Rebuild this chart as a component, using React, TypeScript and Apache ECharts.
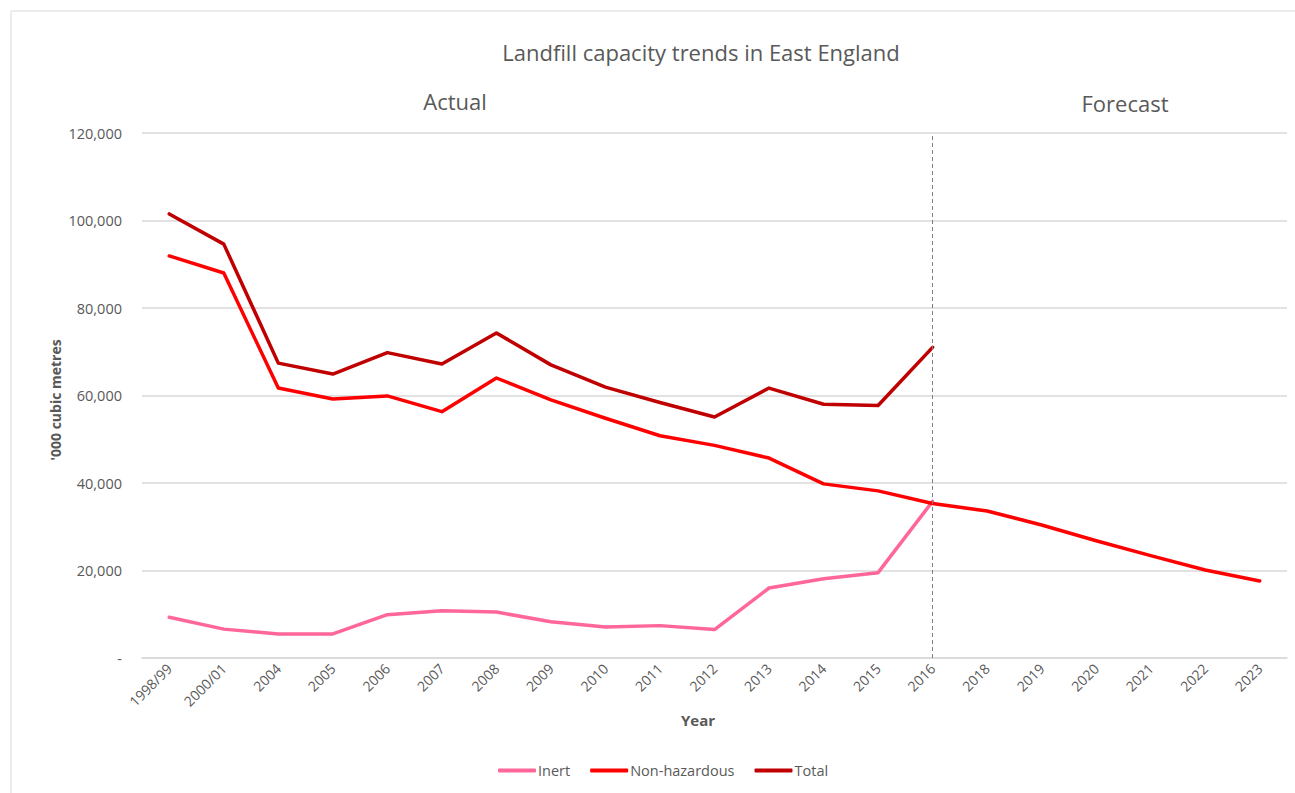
import React, { useEffect, useRef } from "react";
import * as echarts from "echarts";

const years = ["1998/99","2000/01","2004","2005","2006","2007","2008","2009","2010","2011","2012","2013","2014","2015","2016","2018","2019","2020","2021","2022","2023"];
const inert = [9300, 6600, 5500, 5500, 9900, 10800, 10500, 8300, 7100, 7400, 6500, 16000, 18100, 19500, 35800, null, null, null, null, null, null];
const nonHazardous = [91900, 88000, 61700, 59200, 59900, 56300, 64000, 59000, 54800, 50800, 48600, 45700, 39800, 38200, 35300, 33600, 30400, 26800, 23400, 20100, 17600];
const total = [101500, 94600, 67400, 64900, 69800, 67200, 74300, 67000, 61900, 58400, 55100, 61700, 58000, 57700, 71000, null, null, null, null, null, null];
const yTicks = [0, 20000, 40000, 60000, 80000, 100000, 120000];

const FONT = "'Open Sans', 'Noto Sans', sans-serif";
const GREY = "#595959";

export default function App() {
  const ref = useRef<HTMLDivElement>(null);
  useEffect(() => {
    if (!ref.current) return;
    const chart = echarts.init(ref.current, undefined, { renderer: "svg" });
    const lineSeries = (name: string, data: any[], color: string) => ({
      name,
      type: "line",
      data,
      symbol: "none",
      showSymbol: false,
      connectNulls: false,
      lineStyle: { color, width: 3.5, cap: "round", join: "round" },
      itemStyle: { color },
    });
    chart.setOption({
      animation: false,
      textStyle: { fontFamily: FONT },
      grid: { left: 142, right: 8, top: 133, bottom: 135, containLabel: false },
      graphic: [
        { type: "rect", shape: { x: 11, y: 11, width: 1300, height: 800 }, style: { fill: "none", stroke: "#d9d9d9", lineWidth: 1 }, silent: true },
        { type: "text", x: 701, y: 52, style: { text: "Landfill capacity trends in East England", fill: GREY, font: `22px ${FONT}`, textAlign: "center", textVerticalAlign: "middle" } },
        { type: "text", x: 455, y: 101, style: { text: "Actual", fill: GREY, font: `22px ${FONT}`, textAlign: "center", textVerticalAlign: "middle" } },
        { type: "text", x: 1125, y: 103, style: { text: "Forecast", fill: GREY, font: `22px ${FONT}`, textAlign: "center", textVerticalAlign: "middle" } },
        { type: "text", x: 698, y: 720, style: { text: "Year", fill: GREY, font: `bold 15px ${FONT}`, textAlign: "center", textVerticalAlign: "middle" } },
        { type: "text", x: 55, y: 400, rotation: Math.PI / 2, style: { text: "'000 cubic metres", fill: GREY, font: `bold 14px ${FONT}`, textAlign: "center", textVerticalAlign: "middle" } },
      ],
      legend: {
        bottom: 10,
        left: 493,
        icon: "roundRect",
        itemWidth: 38,
        itemHeight: 4,
        itemGap: 20,
        textStyle: { color: GREY, fontSize: 14.5, fontFamily: FONT, padding: [0, 0, 0, -3] },
        data: ["Inert", "Non-hazardous", "Total"],
      },
      xAxis: {
        type: "category",
        data: years,
        boundaryGap: true,
        axisLine: { lineStyle: { color: "#d9d9d9", width: 1.5 } },
        axisTick: { show: false },
        axisLabel: { rotate: 45, color: GREY, fontSize: 14, fontFamily: FONT, margin: 8, interval: 0 },
      },
      yAxis: {
        type: "value",
        min: 0,
        max: 120000,
        interval: 20000,
        axisLine: { show: false },
        axisTick: { show: false },
        splitLine: { lineStyle: { color: "#d9d9d9", width: 1.5 } },
        axisLabel: {
          color: GREY,
          fontSize: 14.5,
          fontFamily: FONT,
          margin: 20,
          formatter: (v: number) => (v === 0 ? "-" : v.toLocaleString("en-US")),
          customValues: yTicks,
        },
      },
      series: [
        {
          ...lineSeries("Inert", inert, "#ff6699"),
          markLine: {
            silent: true,
            symbol: "none",
            label: { show: false },
            lineStyle: { color: "#7f7f7f", type: [4, 3], width: 1 },
            data: [{ xAxis: "2016" }],
          },
        },
        lineSeries("Non-hazardous", nonHazardous, "#ff0000"),
        lineSeries("Total", total, "#c00000"),
      ],
    });
    return () => chart.dispose();
  }, []);
  return <div ref={ref} style={{ width: 1295, height: 793, position: "absolute", left: 0, top: 0 }} />;
}
